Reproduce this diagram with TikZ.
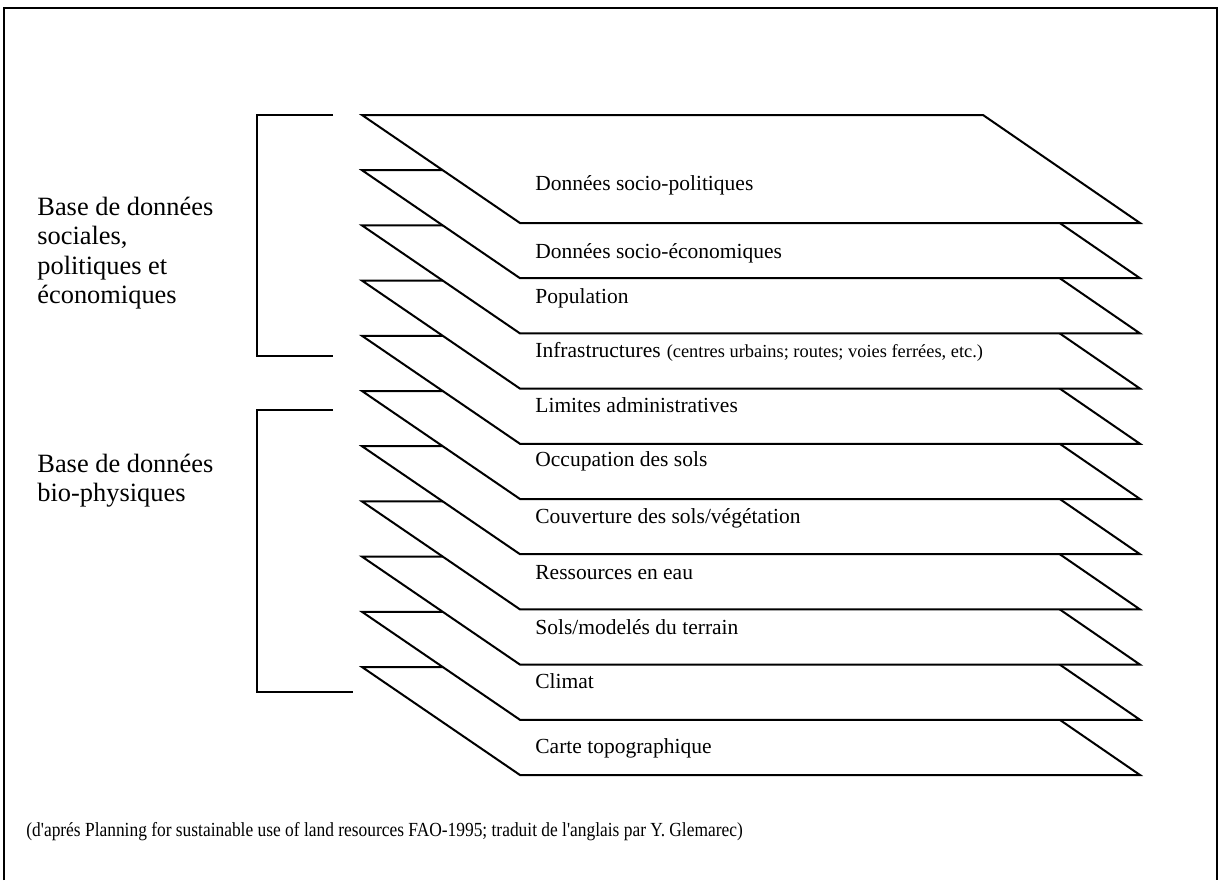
\documentclass[tikz,border=0pt]{standalone}
\usepackage{fontspec}
\setmainfont{Liberation Serif}
\newfontfamily\notefont[FakeStretch=0.87]{Liberation Serif}
\begin{document}
\begin{tikzpicture}[x=0.5pt,y=-0.5pt,
  layer/.style={draw=black,fill=white,line width=1pt,line join=miter},
  bracket/.style={draw=black,line width=0.8pt},
  frame/.style={draw=black,line width=1pt},
  laytext/.style={anchor=west,inner sep=0pt,font=\fontsize{10.75pt}{12pt}\selectfont},
  grouptext/.style={anchor=north west,inner sep=0pt,align=left,font=\fontsize{13.2pt}{14.6pt}\selectfont},
  notetext/.style={anchor=west,inner sep=0pt,font=\notefont\fontsize{10pt}{12pt}\selectfont}]
\useasboundingbox (0,0) rectangle (1219,880);
% outer frame (open at the bottom)
\draw[frame] (4,880) -- (4,8) -- (1217,8) -- (1217,880);
% stacked layers, drawn from the bottom of the pile upwards
\foreach \k in {10,...,0}{
  \pgfmathsetmacro{\yb}{115+55.2*\k}
  \pgfmathsetmacro{\yf}{\yb+108}
  \path[layer] (362,\yb) -- (983,\yb) -- (1140,\yf) -- (520,\yf) -- cycle;
}
% layer labels
\node[laytext] (l1) at (535,185) {Données socio-politiques};
\node[laytext] (l2) at (535,253) {Données socio-économiques};
\node[laytext] (l3) at (535,298) {Population};
\node[laytext] (l4) at (535,352) {Infrastructures\hspace{3pt}{\fontsize{9.2pt}{11pt}\selectfont (centres urbains; routes; voies ferrées, etc.)}};
\node[laytext] (l5) at (535,405) {Limites administratives};
\node[laytext] (l6) at (535,461) {Occupation des sols};
\node[laytext] (l7) at (535,518) {Couverture des sols/végétation};
\node[laytext] (l8) at (535,573) {Ressources en eau};
\node[laytext] (l9) at (535,627) {Sols/modelés du terrain};
\node[laytext] (l10) at (535,681) {Climat};
\node[laytext] (l11) at (535,748) {Carte topographique};
% group brackets
\draw[bracket] (333,115) -- (257,115) -- (257,356) -- (333,356);
\draw[bracket] (333,410) -- (257,410) -- (257,692) -- (353,692);
% group labels
\node[grouptext] (g1) at (37,197) {Base de données\\sociales,\\politiques et\\économiques};
\node[grouptext] (g2) at (37,454) {Base de données\\bio-physiques};
% source note
\node[notetext] (src) at (26,832) {(d'aprés Planning for sustainable use of land resources FAO-1995; traduit de l'anglais par Y. Glemarec)};
\end{tikzpicture}
\end{document}
